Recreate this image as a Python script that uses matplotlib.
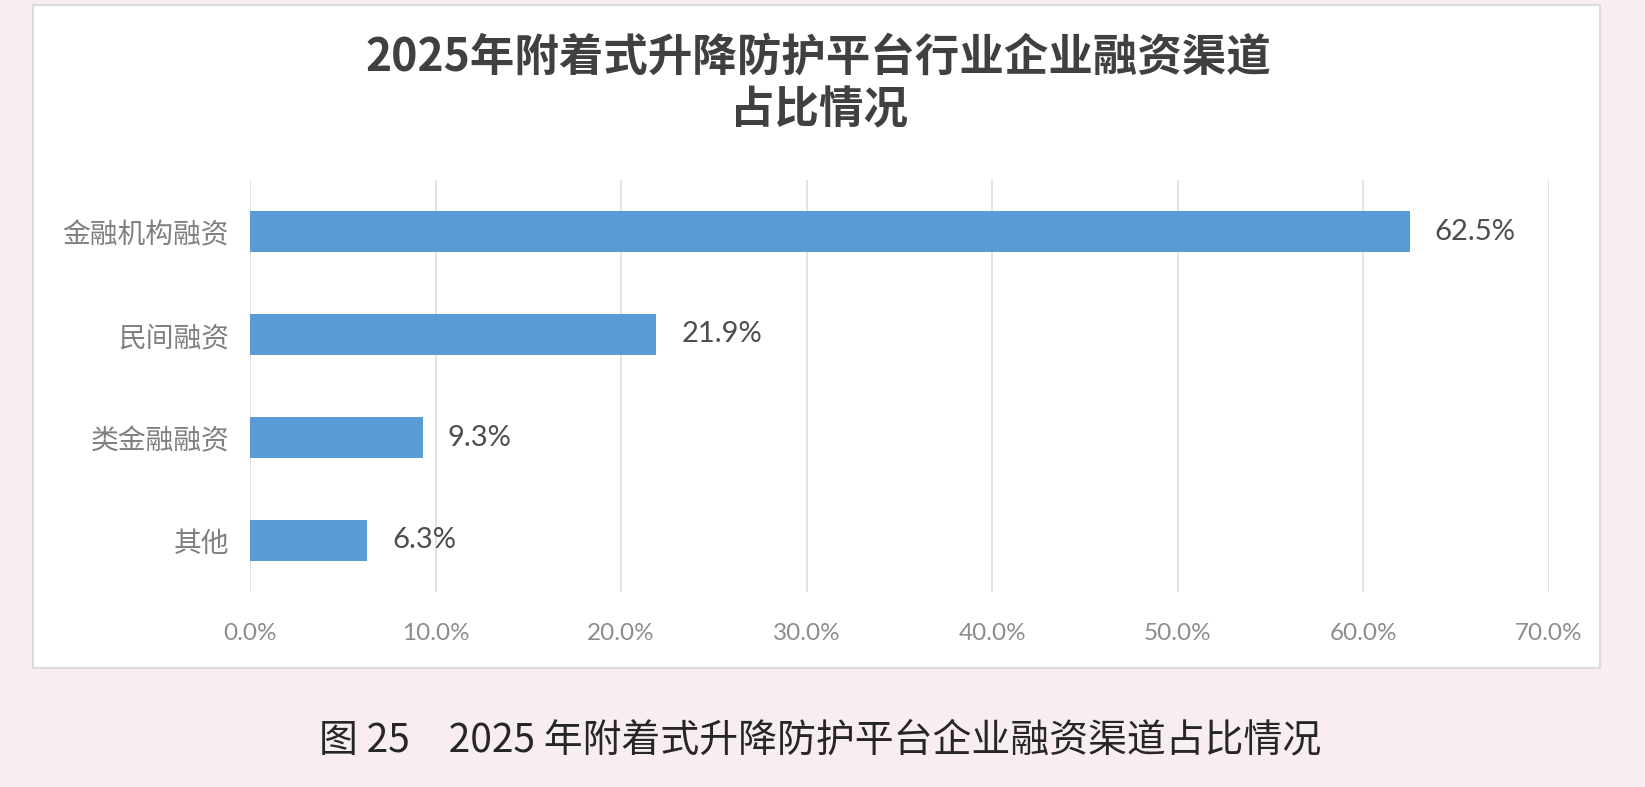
import matplotlib
matplotlib.use("Agg")
import matplotlib.pyplot as plt
from matplotlib.patches import Rectangle

plt.rcParams['font.family'] = ['Noto Sans CJK SC', 'DejaVu Sans']

categories = ["金融机构融资", "民间融资", "类金融融资", "其他"]
values = [62.5, 21.9, 9.3, 6.3]
xticks = [0, 10, 20, 30, 40, 50, 60, 70]
xtick_labels = ["0.0%", "10.0%", "20.0%", "30.0%", "40.0%", "50.0%", "60.0%", "70.0%"]
title_lines = ["2025年附着式升降防护平台行业企业融资渠道", "占比情况"]
caption = "图 25　2025 年附着式升降防护平台企业融资渠道占比情况"

W, H = 1645, 787
fig = plt.figure(figsize=(W / 100, H / 100), dpi=100)
fig.patch.set_facecolor("#f8eef0")

# white chart box
box = Rectangle((33 / W, 1 - 668 / H), (1600 - 33) / W, (668 - 5) / H,
                transform=fig.transFigure, facecolor="white",
                edgecolor="#dcdcdc", linewidth=1.5, zorder=-5)
fig.patches.append(box)

ax = fig.add_axes([250 / W, 1 - 592 / H, (1549 - 250) / W, (592 - 180) / H])
ax.set_zorder(2)
ax.set_facecolor("none")

ypos = list(range(len(categories)))
ax.barh(ypos, values, height=0.4, color="#5b9bd5", zorder=2)
ax.set_ylim(len(categories) - 0.5, -0.5)
ax.set_xlim(0, 70)

ax.set_yticks(ypos)
ax.set_yticklabels(categories, fontsize=20, color="#7f7f7f")
ax.set_xticks(xticks)
ax.set_xticklabels(xtick_labels, fontsize=17.5, color="#8c8c8c", family=["Lato", "DejaVu Sans"])
ax.tick_params(axis="y", length=0, pad=15)
ax.tick_params(axis="x", length=0, pad=22)

ax.grid(axis="x", color="#dedede", linewidth=1.2, zorder=0)
ax.set_axisbelow(True)
for s in ax.spines.values():
    s.set_visible(False)

for y, v in zip(ypos, values):
    ax.annotate(f"{v:.1f}%", xy=(v, y), xytext=(18, 0), textcoords="offset points",
                va="center", ha="left", fontsize=21, color="#4d4d4d",
                family=["Lato", "DejaVu Sans"])

fig.text(818 / W, 1 - 58 / H, title_lines[0], ha="center", va="center",
         fontsize=32, fontweight="bold", color="#404040", zorder=3)
fig.text(819 / W, 1 - 110 / H, title_lines[1], ha="center", va="center",
         fontsize=32, fontweight="bold", color="#404040", zorder=3)

fig.text(820 / W, 1 - 740 / H, caption, ha="center", va="center",
         fontsize=28, fontweight="medium", color="#262626", zorder=3)

fig.savefig("out.png", dpi=100, facecolor=fig.get_facecolor())
